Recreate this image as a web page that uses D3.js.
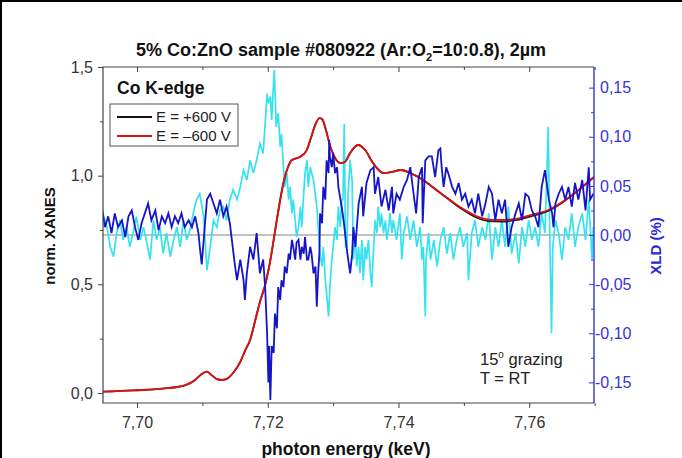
<!DOCTYPE html>
<html>
<head>
<meta charset="UTF-8">
<style>
  body { margin: 0; background: #fff; }
  svg { display: block; font-family: "Liberation Sans", Arial, sans-serif; }
  .tick text { font-family: "Liberation Sans", Arial, sans-serif; }
</style>
</head>
<body>
<svg id="chart" width="682" height="458"></svg>
<script src="https://d3js.org/d3.v7.min.js"></script>
<script>
// axis ticks
const xTicks = [7.70, 7.72, 7.74, 7.76];
const xMinor = [7.71, 7.73, 7.75, 7.77];
const yLTicks = [0, 0.5, 1.0, 1.5];
const yLMinor = [0.25, 0.75, 1.25];
const yRTicks = [-0.15, -0.10, -0.05, 0, 0.05, 0.10, 0.15];
const yRMinor = [-0.125, -0.075, -0.025, 0.025, 0.075, 0.125];

// XANES, E = -600 V (red)
const xanesMinus = [[7.6948,0.006],[7.6994,0.012],[7.7046,0.022],[7.7073,0.035],[7.7089,0.060],[7.7098,0.085],
  [7.7107,0.098],[7.7115,0.080],[7.7122,0.064],[7.7130,0.060],[7.7138,0.066],[7.7147,0.092],[7.7158,0.143],
  [7.7165,0.193],[7.7173,0.244],[7.7181,0.336],[7.7188,0.419],[7.7196,0.497],[7.7204,0.612],[7.7211,0.741],
  [7.7219,0.888],[7.7225,0.980],[7.7231,1.040],[7.7237,1.072],[7.7249,1.086],[7.7259,1.114],[7.7266,1.173],
  [7.7272,1.229],[7.7279,1.265],[7.7283,1.261],[7.7289,1.210],[7.7295,1.141],[7.7303,1.081],[7.7311,1.058],
  [7.7318,1.063],[7.7326,1.104],[7.7338,1.141],[7.7349,1.118],[7.7361,1.058],[7.7377,1.012],[7.7390,1.017],
  [7.7403,1.026],[7.7418,1.012],[7.7433,0.989],[7.7448,0.957],[7.7464,0.920],[7.7479,0.888],[7.7494,0.856],
  [7.7510,0.828],[7.7522,0.810],[7.7537,0.798],[7.7556,0.796],[7.7579,0.801],[7.7602,0.819],[7.7629,0.842],
  [7.7655,0.888],[7.7681,0.948],[7.7699,0.994]];

// XANES, E = +600 V (black, mostly hidden under red)
const xanesPlus = [[7.6948,0.006],[7.6994,0.012],[7.7046,0.022],[7.7073,0.035],[7.7089,0.060],[7.7098,0.085],
  [7.7107,0.098],[7.7115,0.080],[7.7122,0.064],[7.7130,0.060],[7.7138,0.066],[7.7147,0.092],[7.7158,0.143],
  [7.7165,0.193],[7.7173,0.244],[7.7181,0.336],[7.7188,0.419],[7.7196,0.497],[7.7204,0.612],[7.7211,0.741],
  [7.7219,0.888],[7.7225,0.980],[7.7231,1.040],[7.7237,1.072],[7.7249,1.086],[7.7259,1.114],[7.7266,1.173],
  [7.7272,1.229],[7.7279,1.265],[7.7283,1.261],[7.7289,1.210],[7.7295,1.141],[7.7303,1.081],[7.7311,1.058],
  [7.7318,1.063],[7.7326,1.104],[7.7338,1.141],[7.7349,1.118],[7.7361,1.058],[7.7377,1.012],[7.7390,1.017],
  [7.7403,1.026],[7.7418,1.012],[7.7433,0.989],[7.7448,0.957],[7.7464,0.920],[7.7479,0.886],[7.7494,0.852],
  [7.7510,0.822],[7.7522,0.804],[7.7537,0.791],[7.7556,0.789],[7.7579,0.795],[7.7602,0.813],[7.7629,0.838],
  [7.7655,0.886],[7.7681,0.948],[7.7699,0.994]];

// XLD (dark blue)
const xldBlue = [[7.6946,0.029],[7.6951,0.008],[7.6956,0.019],[7.6961,0.002],[7.6966,0.022],[7.6971,0.008],
  [7.6977,0.015],[7.6982,-0.002],[7.6987,0.019],[7.6992,0.025],[7.6997,0.008],[7.7002,-0.005],[7.7007,0.012],
  [7.7012,0.022],[7.7017,0.032],[7.7022,0.015],[7.7028,0.025],[7.7033,0.005],[7.7038,0.019],[7.7043,0.012],
  [7.7048,0.022],[7.7053,0.008],[7.7058,0.019],[7.7063,0.012],[7.7068,0.022],[7.7073,0.008],[7.7079,0.015],
  [7.7084,0.008],[7.7089,0.019],[7.7094,0.002],[7.7096,-0.012],[7.7099,-0.030],[7.7102,-0.005],[7.7107,0.036],
  [7.7112,0.042],[7.7117,0.032],[7.7122,0.022],[7.7127,0.036],[7.7132,0.019],[7.7137,0.029],[7.7142,0.012],
  [7.7150,-0.032],[7.7153,-0.046],[7.7158,-0.025],[7.7163,-0.046],[7.7165,-0.066],[7.7168,-0.039],
  [7.7173,-0.012],[7.7178,-0.025],[7.7183,0.002],[7.7188,-0.039],[7.7193,-0.025],[7.7196,-0.053],
  [7.7199,-0.100],[7.7201,-0.150],[7.7202,-0.113],[7.7204,-0.168],[7.7206,-0.113],[7.7209,-0.120],
  [7.7211,-0.080],[7.7214,-0.095],[7.7216,-0.053],[7.7219,-0.066],[7.7221,-0.046],[7.7224,-0.053],
  [7.7226,-0.032],[7.7229,-0.039],[7.7232,-0.019],[7.7234,-0.025],[7.7237,-0.005],[7.7239,-0.012],
  [7.7242,-0.025],[7.7244,-0.008],[7.7247,-0.005],[7.7250,-0.025],[7.7252,-0.012],[7.7255,-0.019],
  [7.7257,-0.002],[7.7260,-0.025],[7.7262,-0.025],[7.7265,-0.012],[7.7267,-0.019],[7.7270,-0.039],
  [7.7273,-0.032],[7.7275,-0.073],[7.7277,-0.039],[7.7279,-0.019],[7.7280,0.022],[7.7283,0.012],
  [7.7285,0.049],[7.7288,0.036],[7.7290,0.076],[7.7293,0.063],[7.7294,0.097],[7.7295,0.080],[7.7298,0.069],
  [7.7300,0.083],[7.7303,0.063],[7.7306,0.069],[7.7308,0.049],[7.7313,0.029],[7.7316,0.015],[7.7321,-0.015],
  [7.7326,-0.039],[7.7329,-0.020],[7.7331,0.008],[7.7334,-0.012],[7.7339,0.032],[7.7344,0.049],[7.7346,0.019],
  [7.7351,0.053],[7.7357,0.066],[7.7362,0.069],[7.7364,0.042],[7.7369,0.059],[7.7374,0.029],[7.7380,0.046],
  [7.7385,0.025],[7.7390,0.049],[7.7392,0.022],[7.7397,0.042],[7.7402,0.036],[7.7408,0.049],[7.7413,0.056],
  [7.7418,0.069],[7.7423,0.042],[7.7427,0.022],[7.7431,0.059],[7.7436,0.069],[7.7437,0.012],[7.7441,0.076],
  [7.7446,0.080],[7.7451,0.080],[7.7456,0.059],[7.7461,0.086],[7.7464,0.088],[7.7466,0.069],[7.7469,0.049],
  [7.7473,0.069],[7.7476,0.063],[7.7482,0.049],[7.7487,0.042],[7.7492,0.053],[7.7497,0.036],[7.7502,0.042],
  [7.7507,0.029],[7.7512,0.036],[7.7517,0.022],[7.7522,0.042],[7.7528,0.019],[7.7533,0.032],[7.7538,0.049],
  [7.7543,0.042],[7.7548,0.015],[7.7553,0.036],[7.7558,0.022],[7.7563,0.036],[7.7568,-0.012],[7.7573,0.008],
  [7.7579,0.022],[7.7584,0.032],[7.7589,0.015],[7.7594,0.042],[7.7599,0.039],[7.7604,0.025],[7.7609,0.019],
  [7.7614,0.008],[7.7619,0.049],[7.7624,0.066],[7.7630,0.036],[7.7635,0.022],[7.7637,0.008],[7.7640,0.032],
  [7.7645,0.042],[7.7650,0.049],[7.7655,0.036],[7.7660,0.049],[7.7665,0.029],[7.7670,0.053],[7.7675,0.036],
  [7.7681,0.056],[7.7686,0.025],[7.7691,0.069],[7.7693,0.036],[7.7698,0.042]];

// XLD (cyan)
const xldCyan = [[7.6948,0.022],[7.6954,0.008],[7.6959,-0.012],[7.6964,-0.022],[7.6969,0.002],[7.6974,0.015],
  [7.6979,-0.005],[7.6984,0.008],[7.6989,-0.012],[7.6994,0.002],[7.6999,0.019],[7.7005,-0.005],[7.7010,0.008],
  [7.7015,-0.008],[7.7020,-0.025],[7.7025,0.015],[7.7030,-0.005],[7.7035,0.008],[7.7040,-0.019],[7.7045,0.002],
  [7.7051,-0.022],[7.7056,-0.005],[7.7061,0.008],[7.7066,-0.012],[7.7071,0.015],[7.7076,-0.005],[7.7081,0.005],
  [7.7086,0.022],[7.7091,0.036],[7.7096,0.042],[7.7102,0.019],[7.7107,-0.036],[7.7112,-0.012],[7.7117,0.015],
  [7.7122,0.008],[7.7127,0.025],[7.7132,0.029],[7.7137,0.015],[7.7142,0.036],[7.7147,0.046],[7.7153,0.036],
  [7.7158,0.049],[7.7163,0.066],[7.7168,0.056],[7.7173,0.076],[7.7178,0.063],[7.7183,0.076],[7.7188,0.093],
  [7.7193,0.083],[7.7199,0.144],[7.7201,0.134],[7.7204,0.141],[7.7206,0.117],[7.7209,0.157],[7.7210,0.168],
  [7.7213,0.110],[7.7216,0.124],[7.7219,0.090],[7.7221,0.103],[7.7224,0.069],[7.7226,0.049],[7.7229,0.063],
  [7.7232,0.036],[7.7234,0.049],[7.7237,0.022],[7.7239,0.036],[7.7242,0.015],[7.7244,-0.002],[7.7247,0.008],
  [7.7250,0.029],[7.7252,0.008],[7.7255,0.042],[7.7257,0.063],[7.7260,0.076],[7.7262,0.049],[7.7265,0.069],
  [7.7270,0.056],[7.7275,0.029],[7.7280,-0.019],[7.7283,-0.032],[7.7285,-0.012],[7.7288,-0.046],[7.7290,-0.059],
  [7.7293,-0.083],[7.7295,-0.053],[7.7298,-0.025],[7.7300,-0.012],[7.7303,0.008],[7.7306,-0.005],[7.7308,0.029],
  [7.7311,0.008],[7.7313,0.036],[7.7315,0.036],[7.7317,0.113],[7.7319,-0.012],[7.7321,-0.012],[7.7323,0.042],
  [7.7326,0.076],[7.7329,0.056],[7.7331,-0.025],[7.7334,0.002],[7.7336,-0.032],[7.7339,-0.012],[7.7341,-0.039],
  [7.7344,-0.005],[7.7346,-0.046],[7.7349,-0.012],[7.7351,-0.025],[7.7354,-0.005],[7.7357,-0.039],[7.7359,-0.053],
  [7.7362,-0.012],[7.7364,0.015],[7.7367,0.002],[7.7369,0.029],[7.7372,0.008],[7.7374,0.022],[7.7377,0.002],
  [7.7380,0.015],[7.7382,-0.005],[7.7385,0.008],[7.7387,0.022],[7.7390,0.002],[7.7392,0.015],[7.7397,-0.005],
  [7.7402,0.022],[7.7405,-0.025],[7.7408,0.002],[7.7413,0.019],[7.7418,-0.005],[7.7423,0.015],[7.7428,-0.012],
  [7.7433,0.008],[7.7436,-0.025],[7.7438,-0.012],[7.7441,-0.083],[7.7442,-0.025],[7.7446,0.002],[7.7449,-0.025],
  [7.7454,-0.005],[7.7459,-0.032],[7.7464,-0.005],[7.7469,0.008],[7.7474,-0.019],[7.7479,0.002],[7.7484,-0.025],
  [7.7489,-0.005],[7.7494,0.008],[7.7499,-0.012],[7.7505,0.002],[7.7507,-0.046],[7.7512,0.002],[7.7517,0.015],
  [7.7522,-0.012],[7.7528,0.008],[7.7533,-0.005],[7.7538,0.022],[7.7543,-0.025],[7.7548,0.008],[7.7553,-0.012],
  [7.7558,0.015],[7.7563,-0.012],[7.7568,0.029],[7.7573,-0.019],[7.7579,0.002],[7.7584,-0.029],[7.7589,0.008],
  [7.7594,-0.012],[7.7599,0.015],[7.7604,-0.005],[7.7609,0.008],[7.7614,-0.012],[7.7619,0.022],[7.7624,0.002],
  [7.7629,0.110],[7.7631,0.015],[7.7634,-0.100],[7.7636,-0.012],[7.7640,0.015],[7.7645,0.002],[7.7650,-0.025],
  [7.7655,0.008],[7.7660,-0.005],[7.7665,0.022],[7.7670,-0.012],[7.7675,0.008],[7.7681,0.022],[7.7686,-0.005],
  [7.7691,0.036],[7.7696,-0.025],[7.7698,0.008]];

const legendItems = [
  { label: "E = +600 V", color: "#111" },
  { label: "E = \u2013600 V", color: "#e01010" }
];

const W = 682, H = 458;
const plot = { left: 103, right: 594, top: 67, bottom: 403 };
const blue = "#3535d6";

let svg = d3.select("#chart");

// outer border of the figure
svg.append("line").attr("x1", 1).attr("y1", 0).attr("x2", 1).attr("y2", H)
  .attr("stroke", "#000").attr("stroke-width", 2);
svg.append("line").attr("x1", 0).attr("y1", 1).attr("x2", W).attr("y2", 1)
  .attr("stroke", "#000").attr("stroke-width", 2);

let x = d3.scaleLinear().domain([7.6948, 7.7699]).range([plot.left, plot.right]);
let yL = d3.scaleLinear().domain([-0.046, 1.5]).range([plot.bottom, plot.top]);
let yR = d3.scaleLinear().domain([-0.171, 0.171]).range([plot.bottom, plot.top]);

const comma = (d, n) => (d < 0 ? "-" : "") + Math.abs(d).toFixed(n).replace(".", ",");

svg.append("defs").append("clipPath").attr("id", "clip")
  .append("rect")
  .attr("x", plot.left).attr("y", plot.top)
  .attr("width", plot.right - plot.left).attr("height", plot.bottom - plot.top);

// zero line of XLD
svg.append("line")
  .attr("x1", plot.left).attr("x2", plot.right)
  .attr("y1", yR(0)).attr("y2", yR(0))
  .attr("stroke", "#666").attr("stroke-width", 0.8);

let lines = svg.append("g").attr("clip-path", "url(#clip)");

let lineL = d3.line().x(d => x(d[0])).y(d => yL(d[1])).curve(d3.curveMonotoneX);
let lineR = d3.line().x(d => x(d[0])).y(d => yR(d[1]));

lines.append("path").datum(xldCyan).attr("d", lineR)
  .attr("fill", "none").attr("stroke", "#35e3ee").attr("stroke-width", 1.7);
lines.append("path").datum(xanesPlus).attr("d", lineL)
  .attr("fill", "none").attr("stroke", "#222").attr("stroke-width", 1.8);
lines.append("path").datum(xanesMinus).attr("d", lineL)
  .attr("fill", "none").attr("stroke", "#e01010").attr("stroke-width", 1.8);
lines.append("path").datum(xldBlue).attr("d", lineR)
  .attr("fill", "none").attr("stroke", "#1414c8").attr("stroke-width", 1.8);

// bottom axis
svg.append("g").attr("transform", `translate(0,${plot.bottom})`)
  .call(d3.axisBottom(x).tickValues(xTicks).tickSize(5).tickPadding(9).tickFormat(d => comma(d, 2)));
svg.append("g").attr("transform", `translate(0,${plot.bottom})`)
  .call(d3.axisBottom(x).tickValues(xMinor).tickSize(3).tickFormat(""));
// top mirror ticks
svg.append("g").attr("transform", `translate(0,${plot.top})`)
  .call(d3.axisBottom(x).tickValues(xTicks).tickSize(5).tickFormat(""));
svg.append("g").attr("transform", `translate(0,${plot.top})`)
  .call(d3.axisBottom(x).tickValues(xMinor).tickSize(3).tickFormat(""));

// left axis
svg.append("g").attr("transform", `translate(${plot.left},0)`)
  .call(d3.axisLeft(yL).tickValues(yLTicks).tickSize(5).tickPadding(5).tickFormat(d => comma(d, 1)));
svg.append("g").attr("transform", `translate(${plot.left},0)`)
  .call(d3.axisLeft(yL).tickValues(yLMinor).tickSize(3).tickFormat(""));

// right axis (ticks inward)
let gr = svg.append("g").attr("class", "raxis").attr("transform", `translate(${plot.right},0)`)
  .call(d3.axisLeft(yR).tickValues(yRTicks).tickSize(5).tickFormat(d => comma(d, 2)));
gr.selectAll(".tick text").attr("text-anchor", "start").attr("x", d => d < 0 ? 1 : 6);
svg.append("g").attr("class", "raxis").attr("transform", `translate(${plot.right},0)`)
  .call(d3.axisLeft(yR).tickValues(yRMinor).tickSize(3).tickFormat(""));

svg.selectAll(".domain").remove();
svg.selectAll(".tick line").attr("stroke", "#444");
svg.selectAll(".tick text").attr("font-size", 16).attr("fill", "#333");
svg.selectAll(".raxis .tick line").attr("stroke", blue);
svg.selectAll(".raxis .tick text").attr("fill", blue);

// frame
svg.append("path")
  .attr("d", `M${plot.right},${plot.top}H${plot.left}V${plot.bottom}H${plot.right}`)
  .attr("fill", "none").attr("stroke", "#444").attr("stroke-width", 1.2);
svg.append("line")
  .attr("x1", plot.right).attr("x2", plot.right).attr("y1", plot.top).attr("y2", plot.bottom)
  .attr("stroke", blue).attr("stroke-width", 1.4);

// title
let title = svg.append("text").attr("x", 341).attr("y", 56).attr("text-anchor", "middle")
  .attr("font-size", 18).attr("font-weight", "bold").attr("fill", "#111");
title.append("tspan").text("5% Co:ZnO sample #080922 (Ar:O");
title.append("tspan").text("2").attr("font-size", 11).attr("dy", 5);
title.append("tspan").text("=10:0.8), 2\u00b5m").attr("dy", -5);

// axis labels
svg.append("text").attr("x", 346).attr("y", 455).attr("text-anchor", "middle")
  .attr("font-size", 17.5).attr("font-weight", "bold").attr("fill", "#111")
  .text("photon energy (keV)");
svg.append("text").attr("transform", "translate(55,236) rotate(-90)").attr("text-anchor", "middle")
  .attr("font-size", 15).attr("font-weight", "bold").attr("fill", "#111")
  .text("norm. XANES");
svg.append("text").attr("transform", "translate(661,246) rotate(-90)").attr("text-anchor", "middle")
  .attr("font-size", 15).attr("font-weight", "bold").attr("fill", "#2a2ad0")
  .text("XLD (%)");

// annotations
svg.append("text").attr("x", 117).attr("y", 94)
  .attr("font-size", 17.5).attr("font-weight", "bold").attr("fill", "#111").text("Co K-edge");

let legend = svg.append("g");
legend.append("rect").attr("x", 110).attr("y", 104).attr("width", 128).attr("height", 42)
  .attr("fill", "#fff").attr("stroke", "#555").attr("stroke-width", 1);
legend.selectAll("line.item").data(legendItems).enter().append("line")
  .attr("x1", 117).attr("x2", 152)
  .attr("y1", (d, i) => 117 + i * 19).attr("y2", (d, i) => 117 + i * 19)
  .attr("stroke", d => d.color).attr("stroke-width", 1.8);
legend.selectAll("text").data(legendItems).enter().append("text")
  .attr("x", 156).attr("y", (d, i) => 122 + i * 19)
  .attr("font-size", 15).attr("fill", "#222").text(d => d.label);

let note = svg.append("text").attr("x", 480).attr("y", 365).attr("font-size", 16.5).attr("fill", "#222");
note.append("tspan").text("15");
note.append("tspan").text("o").attr("font-size", 10).attr("dy", -7);
note.append("tspan").text(" grazing").attr("dy", 7);
svg.append("text").attr("x", 480).attr("y", 384).attr("font-size", 16.5).attr("fill", "#222").text("T = RT");
</script>
</body>
</html>
